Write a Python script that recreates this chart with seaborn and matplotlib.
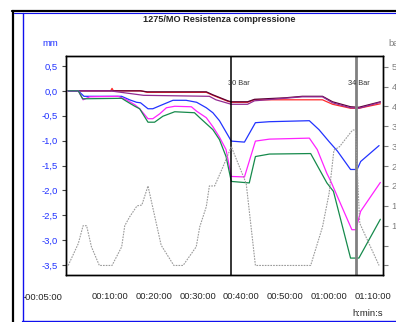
import numpy as np
import pandas as pd
import matplotlib
matplotlib.use("Agg")
import matplotlib.pyplot as plt
from matplotlib.lines import Line2D
from matplotlib.ticker import FixedLocator, MultipleLocator, FuncFormatter
import seaborn as sns

# time in minutes, displacement in mm (left axis), pressure in bar (right axis)
red_t = [0.5, 10.2, 10.5, 10.8, 17.0, 17.6, 18.5, 32.0, 33.5, 36.9, 37.7, 41.4, 43.0, 48.6, 58.5, 60.8, 64.9, 66.8, 71.7]
red_v = [0, 0, 0.05, 0, 0, -0.01, -0.03, -0.03, -0.09, -0.21, -0.23, -0.23, -0.18, -0.18, -0.18, -0.27, -0.35, -0.35, -0.26]

dark_t = [0.5, 17.0, 18.5, 32.0, 33.5, 36.9, 37.7, 41.4, 43.0, 50.0, 53.9, 58.5, 60.8, 64.9, 66.8, 71.7]
dark_v = [0, 0, -0.02, -0.02, -0.08, -0.20, -0.22, -0.22, -0.17, -0.14, -0.11, -0.11, -0.22, -0.32, -0.33, -0.22]

purple_t = [0.5, 10.0, 17.7, 32.7, 34.2, 37.7, 41.4, 43.0, 53.9, 58.5, 60.8, 64.9, 66.8, 71.7]
purple_v = [0, 0, -0.09, -0.11, -0.18, -0.27, -0.27, -0.20, -0.12, -0.12, -0.24, -0.34, -0.35, -0.23]

blue_t = [0.5, 2.8, 4.1, 12.7, 14.5, 16.1, 17.0, 18.7, 19.8, 21.4, 24.4, 27.4, 29.8, 32.0, 33.5, 35.0,
          37.7, 40.7, 43.2, 46.4, 55.5, 57.7, 60.0, 61.9, 64.9, 66.4, 67.2, 71.4]
blue_v = [0, 0, -0.11, -0.11, -0.18, -0.23, -0.24, -0.36, -0.36, -0.30, -0.19, -0.19, -0.23, -0.34, -0.44, -0.60,
          -1.01, -1.03, -0.64, -0.62, -0.60, -0.78, -1.02, -1.21, -1.58, -1.58, -1.42, -1.10]

magenta_t = [0.5, 2.8, 3.9, 5.4, 11.9, 13.8, 15.7, 16.8, 18.7, 19.8, 21.4, 22.9, 24.8, 28.6, 29.8, 32.0, 33.5,
             35.0, 36.5, 37.7, 40.7, 43.2, 46.4, 55.5, 57.3, 59.5, 60.3, 65.2, 66.1, 67.2, 71.7]
magenta_v = [0, 0, -0.18, -0.12, -0.11, -0.18, -0.28, -0.36, -0.56, -0.56, -0.46, -0.34, -0.31, -0.32, -0.41, -0.54, -0.72,
             -0.93, -1.18, -1.72, -1.73, -1.01, -0.97, -0.95, -1.18, -1.66, -1.80, -2.79, -2.79, -2.42, -1.84]

green_t = [0.5, 2.8, 3.8, 12.7, 13.8, 15.7, 16.8, 18.7, 20.2, 22.1, 24.8, 29.3, 30.5, 32.0, 33.5, 35.0, 36.5,
           37.7, 41.8, 43.2, 46.4, 55.8, 59.5, 61.0, 64.9, 66.8, 71.7]
green_v = [0, 0, -0.16, -0.15, -0.21, -0.31, -0.36, -0.63, -0.63, -0.51, -0.42, -0.44, -0.54, -0.66, -0.78, -0.98, -1.32,
           -1.82, -1.85, -1.32, -1.27, -1.26, -1.85, -2.02, -3.36, -3.36, -2.58]

bar_t = [0.5, 2.8, 3.9, 4.7, 5.8, 7.6, 10.5, 12.7, 13.4, 14.5, 16.2, 17.3, 18.7, 21.7, 24.6, 26.7, 29.7, 30.5,
         32.0, 32.7, 33.9, 35.8, 37.7, 41.1, 43.2, 55.8, 58.5, 60.0, 61.1, 62.4, 65.3, 66.0, 67.0, 71.4]
bar_v = [0, 5.5, 10, 10, 4.7, 0, 0, 4.7, 10, 12.2, 15, 15.2, 20, 5.1, 0, 0, 4.7, 9.7,
         14.8, 20, 20, 24.8, 29.9, 20.6, 0, 0, 9.7, 18.1, 29.0, 29.9, 34.0, 34.2, 10.6, 0]

events_t = [37.7, 66.07]
events_lbl = ["30 Bar", "34 Bar"]

sns.set_style("white")
plt.rcParams['font.family'] = ['Liberation Sans', 'DejaVu Sans']
FS = 6.8

W, H = 396, 322
fig = plt.figure(figsize=(W / 100, H / 100), dpi=100)
ax = fig.add_axes([66 / W, 1 - 275 / H, (383 - 66) / W, (275 - 56) / H])
ax2 = ax.twinx()

series = [(red_t, red_v, '#ff2a2a'), (dark_t, dark_v, '#5a0035'), (purple_t, purple_v, '#922a92'),
          (blue_t, blue_v, '#2233ff'), (magenta_t, magenta_v, '#ff22ff'), (green_t, green_v, '#168a4c')]
for t, v, c in series:
    df = pd.DataFrame({'t': t, 'v': v})
    sns.lineplot(data=df, x='t', y='v', ax=ax, color=c, linewidth=0.9, sort=False, estimator=None)

df_bar = pd.DataFrame({'t': bar_t, 'v': bar_v})
sns.lineplot(data=df_bar, x='t', y='v', ax=ax2, color='#9a9a9a', linewidth=0.8,
             linestyle=(0, (1.5, 1)), sort=False, estimator=None)

ax.axvline(events_t[0], color='black', linewidth=1.1)
ax.axvline(events_t[1], color='#808080', linewidth=2.0)
ax.text(events_t[0] - 0.8, 0.15, events_lbl[0], fontsize=5.3, color='#333333', va='center', ha='left')
ax.text(events_t[1] - 1.7, 0.15, events_lbl[1], fontsize=5.3, color='#333333', va='center', ha='left')

ax.set_xlim(0, 72.3)
ax.set_ylim(-3.7, 0.7)
ax2.set_ylim(-2.4, 52.7)
for a in (ax, ax2):
    a.set_xlabel('')
    a.set_ylabel('')
    for s in a.spines.values():
        s.set_color('black')
        s.set_linewidth(1.0)

ax.xaxis.set_major_locator(FixedLocator([10, 20, 30, 40, 50, 60, 70]))
ax.xaxis.set_minor_locator(FixedLocator([0, 5, 15, 25, 35, 45, 55, 65]))
ax.xaxis.set_major_formatter(FuncFormatter(lambda x, p: f"{int(x) // 60:02d}:{int(x) % 60:02d}:00"))
ax.tick_params(axis='x', which='major', length=9, width=1.6, color='#808080', pad=3, labelsize=FS)
ax.tick_params(axis='x', which='minor', length=4.5, width=1.0, color='black')
ax.text(-5.4, -0.105, "-00:05:00", transform=ax.get_xaxis_transform(), ha='center', va='center',
        fontsize=FS, clip_on=False)

ax.yaxis.set_major_locator(MultipleLocator(0.5))
ax.yaxis.set_major_formatter(FuncFormatter(lambda v, p: f"{v + 0:.1f}".replace('.', ',')))
ax.tick_params(axis='y', length=3, width=0.8, color='#444444', pad=3, labelcolor='#2233ff', labelsize=FS)

ax2.yaxis.set_major_locator(MultipleLocator(5))
ax2.yaxis.set_major_formatter(FuncFormatter(lambda v, p: f"{int(round(v))}".rjust(2, '\u2007')))
ax2.tick_params(axis='y', length=3.5, width=0.8, color='#808080', pad=2.5, labelcolor='#808080', labelsize=FS)

fig.text(219 / W, 1 - 20 / H, "1275/MO Resistenza compressione", ha='center', va='center',
         fontsize=6.6, fontweight='bold')
fig.text(50 / W, 1 - 43 / H, "mm", ha='center', va='center', color='#2233ff', fontsize=FS)
fig.text(388 / W, 1 - 43 / H, "bar", ha='left', va='center', color='#808080', fontsize=FS)
fig.text(383 / W, 1 - 313 / H, "h:min:s", ha='right', va='center', fontsize=FS)

# window frame
fig.add_artist(Line2D([13 / W, 13 / W], [0, 1 - 11 / H], transform=fig.transFigure, color='black', linewidth=1.6))
fig.add_artist(Line2D([12 / W, 1], [1 - 11 / H, 1 - 11 / H], transform=fig.transFigure, color='black', linewidth=1.6))
fig.add_artist(Line2D([22.5 / W, 22.5 / W], [1.5 / H, 1 - 12.5 / H], transform=fig.transFigure, color='#1010ee', linewidth=1.0))
fig.add_artist(Line2D([14 / W, 1], [1 - 12.8 / H, 1 - 12.8 / H], transform=fig.transFigure, color='#1010ee', linewidth=0.8))
fig.add_artist(Line2D([22 / W, 1], [1.5 / H, 1.5 / H], transform=fig.transFigure, color='#1010ee', linewidth=1.0))

fig.savefig('out.png', dpi=100)
